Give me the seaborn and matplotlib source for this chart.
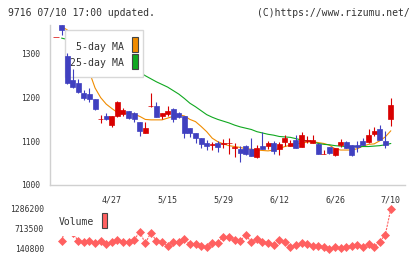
import numpy as np
import pandas as pd
import matplotlib
matplotlib.use("Agg")
import matplotlib.pyplot as plt
import seaborn as sns
from matplotlib.patches import Rectangle

# ---------------- data ----------------
opens  = [1338, 1366, 1294, 1240, 1233, 1210, 1208, 1196, 1150, 1157,
          1137, 1158, 1162, 1169, 1165, 1145, 1120, 1180, 1181, 1158,
          1162, 1174, 1164, 1158, 1130, 1120, 1108, 1097, 1092, 1095,
          1094, 1095, 1084, 1082, 1089, 1082, 1065, 1089, 1089, 1097,
          1082, 1099, 1089, 1104, 1088, 1100, 1097, 1094, 1071, 1088,
          1069, 1092, 1098, 1092, 1092, 1101, 1098, 1116, 1128, 1101,
          1150]
highs  = [1339, 1366, 1303, 1265, 1242, 1217, 1221, 1197, 1160, 1165,
          1158, 1193, 1177, 1169, 1167, 1145, 1143, 1211, 1190, 1165,
          1181, 1176, 1167, 1158, 1130, 1120, 1108, 1103, 1099, 1101,
          1105, 1107, 1095, 1089, 1091, 1108, 1091, 1122, 1101, 1101,
          1099, 1114, 1103, 1114, 1122, 1112, 1115, 1097, 1080, 1088,
          1085, 1105, 1100, 1092, 1100, 1107, 1128, 1133, 1137, 1124,
          1198]
lows   = [1338, 1343, 1232, 1222, 1210, 1194, 1191, 1172, 1141, 1148,
          1133, 1156, 1158, 1150, 1145, 1112, 1120, 1178, 1155, 1150,
          1158, 1143, 1153, 1107, 1109, 1097, 1085, 1080, 1080, 1076,
          1084, 1070, 1065, 1053, 1069, 1067, 1062, 1082, 1083, 1071,
          1069, 1089, 1089, 1085, 1086, 1095, 1095, 1072, 1070, 1072,
          1066, 1088, 1084, 1066, 1076, 1092, 1095, 1113, 1103, 1084,
          1136]
closes = [1339, 1354, 1234, 1225, 1213, 1198, 1196, 1173, 1152, 1150,
          1158, 1191, 1172, 1154, 1150, 1124, 1131, 1181, 1156, 1165,
          1169, 1150, 1156, 1118, 1118, 1107, 1094, 1090, 1093, 1088,
          1095, 1096, 1086, 1074, 1072, 1067, 1084, 1082, 1097, 1078,
          1094, 1107, 1097, 1085, 1114, 1103, 1104, 1072, 1072, 1074,
          1085, 1098, 1084, 1069, 1086, 1092, 1114, 1123, 1103, 1092,
          1183]

ma5 = [np.nan, 1362, 1355, 1320, 1295, 1275, 1258, 1222, 1200, 1185,
       1175, 1166, 1164, 1164, 1162, 1157, 1150, 1149, 1149, 1149,
       1153, 1157, 1161, 1158, 1150, 1145, 1134, 1122, 1107, 1099,
       1094, 1090, 1088, 1086, 1083, 1082, 1080, 1079, 1078, 1080,
       1083, 1088, 1091, 1094, 1096, 1098, 1099, 1097, 1095, 1091,
       1083, 1080, 1080, 1080, 1083, 1089, 1093, 1094, 1101, 1110,
       1124]
ma25 = [np.nan, 1336, 1333, 1330, 1326, 1322, 1318, 1313, 1307, 1300,
        1293, 1286, 1279, 1272, 1265, 1258, 1250, 1243, 1236, 1230,
        1224, 1216, 1208, 1198, 1187, 1179, 1170, 1161, 1155, 1150,
        1146, 1142, 1137, 1133, 1130, 1127, 1122, 1119, 1116, 1114,
        1111, 1110, 1109, 1106, 1103, 1101, 1099, 1095, 1093, 1092,
        1090, 1089, 1088, 1088, 1088, 1088, 1088, 1089, 1090, 1092,
        1095]

volume = [np.nan, 370000, 900000, 600000, 370000, 341000, 370000, 303000, 370000, 284000,
          333000, 398000, 341000, 341000, 398000, 636000, 303000, 608000, 370000, 341000,
          236000, 341000, 341000, 418000, 284000, 284000, 227000, 189000, 303000, 322000,
          493000, 475000, 398000, 379000, 542000, 341000, 418000, 341000, 322000, 265000,
          398000, 351000, 189000, 255000, 303000, 284000, 236000, 236000, 207000, 140800,
          189000, 179000, 189000, 236000, 255000, 189000, 284000, 189000, 351000, 542000,
          1286200]

date_labels = ["4/27", "5/15", "5/29", "6/12", "6/26", "7/10"]
date_index = [10, 20, 30, 40, 50, 60]
price_ticks = [1000, 1100, 1200, 1300]
vol_ticks = [140800, 713500, 1286200]

df = pd.DataFrame({"i": np.arange(len(opens)), "open": opens, "high": highs,
                   "low": lows, "close": closes, "ma5": ma5, "ma25": ma25,
                   "volume": volume})

# ---------------- style ----------------
sns.set_style("white")
plt.rcParams["font.family"] = ["DejaVu Sans Mono"]

UP, DOWN = "#d80000", "#4040c0"
ORANGE, GREEN, VOLC = "#f08c00", "#10a820", "#ff6060"
AXC, TXT = "#d0d0d0", "#333333"

W, H = 420, 259
fig = plt.figure(figsize=(W / 100, H / 100), dpi=100)

def rect(x0, y0, x1, y1):
    return [x0 / W, 1 - y1 / H, (x1 - x0) / W, (y1 - y0) / H]

ax = fig.add_axes(rect(50, 25, 405, 185))
axv = fig.add_axes(rect(50, 209, 405, 249))

XL = (-1.075, 62.54)

# moving averages (under legend)
sns.lineplot(data=df, x="i", y="ma5", ax=ax, color=ORANGE, linewidth=0.8, zorder=2)
sns.lineplot(data=df, x="i", y="ma25", ax=ax, color=GREEN, linewidth=0.8, zorder=2)

# candles (above legend)
for _, r in df.iterrows():
    c = UP if r.close >= r.open else DOWN
    ax.vlines(r.i, r.low, r.high, color=c, linewidth=0.8, zorder=6)
    ax.bar(r.i, abs(r.close - r.open), bottom=min(r.open, r.close), width=0.9,
           color=c, edgecolor=c, linewidth=0.5, zorder=7)

ax.set_xlim(*XL)
ax.set_ylim(1000, 1366)
ax.set_xlabel("")
ax.set_ylabel("")
grid_x = np.linspace(XL[0], XL[1], 12)
ax.set_xticks(grid_x)
ax.set_xticklabels([""] * len(grid_x))
ax.set_xticks(date_index, minor=True)
ax.set_xticklabels(date_labels, minor=True)
ax.tick_params(axis="x", which="major", direction="inout", length=8, width=1, color=AXC)
ax.tick_params(axis="x", which="minor", length=0, pad=7.5, labelsize=6, labelcolor=TXT)
ax.set_yticks(price_ticks)
ax.set_yticklabels([str(t) for t in price_ticks])
ax.tick_params(axis="y", direction="inout", length=8, width=1, color=AXC,
               labelsize=5.7, labelcolor=TXT, pad=3)
for s in ["top", "right"]:
    ax.spines[s].set_visible(False)
for s in ["left", "bottom"]:
    ax.spines[s].set_color(AXC)
    ax.spines[s].set_linewidth(1)

# legend (manual, between lines and candles)
def axc(px, py):
    return ((px - 50) / 355, (185 - py) / 160)

x0, y0 = axc(65, 77)
x1, y1 = axc(143, 30)
ax.add_patch(Rectangle((x0, y0), x1 - x0, y1 - y0, transform=ax.transAxes,
                       facecolor="white", edgecolor="#d8d8d8", linewidth=1, zorder=4))
for (lab, col, ty, sy0, sy1) in [("5-day MA", ORANGE, 46.5, 37.3, 52.3),
                                 ("25-day MA", GREEN, 63.5, 54.3, 69.3)]:
    tx, tyy = axc(124, ty)
    ax.text(tx, tyy, lab, transform=ax.transAxes, ha="right", va="center",
            fontsize=7.1, color=TXT, zorder=5)
    a0, b0 = axc(131.5, sy1)
    a1, b1 = axc(137.5, sy0)
    ax.add_patch(Rectangle((a0, b0), a1 - a0, b1 - b0, transform=ax.transAxes,
                           facecolor=col, edgecolor="#444444", linewidth=0.8, zorder=5))

# volume
sns.lineplot(data=df, x="i", y="volume", ax=axv, color=VOLC, linewidth=0.8,
             marker="D", markersize=3.6, markeredgecolor=VOLC, markeredgewidth=0.5,
             zorder=2, clip_on=False)
for ln in axv.lines:
    ln.set_linestyle((0, (2, 1)))
axv.set_xlim(*XL)
axv.set_ylim(vol_ticks[0], vol_ticks[-1])
axv.set_xticks([])
axv.set_xlabel("")
axv.set_ylabel("")
axv.set_yticks(vol_ticks)
axv.set_yticklabels([str(t) for t in vol_ticks])
axv.tick_params(axis="y", length=0, labelsize=5.8, labelcolor=TXT, pad=4.3)
for s in axv.spines.values():
    s.set_visible(False)
axv.patch.set_alpha(0)

# volume legend box
vx0, vx1, vy0, vy1 = 55, 112, 205, 236
fig.patches.append(Rectangle((vx0 / W, 1 - vy1 / H), (vx1 - vx0) / W, (vy1 - vy0) / H,
                             transform=fig.transFigure, facecolor="white",
                             edgecolor="none", zorder=3))
fig.text(59 / W, 1 - 222 / H, "Volume", ha="left", va="center", fontsize=7,
         color=TXT, zorder=4)
fig.patches.append(Rectangle((101.7 / W, 1 - 228.3 / H), 5.6 / W, 15 / H,
                             transform=fig.transFigure, facecolor=VOLC,
                             edgecolor="#444444", linewidth=0.8, zorder=4))

# header
fig.text(8 / W, 1 - 13 / H, "9716 07/10 17:00 updated.", ha="left", va="center",
         fontsize=7.0, color=TXT)
fig.text(410 / W, 1 - 13 / H, "(C)https://www.rizumu.net/", ha="right", va="center",
         fontsize=7.0, color=TXT)

fig.savefig("out.png", dpi=100, facecolor="white")
